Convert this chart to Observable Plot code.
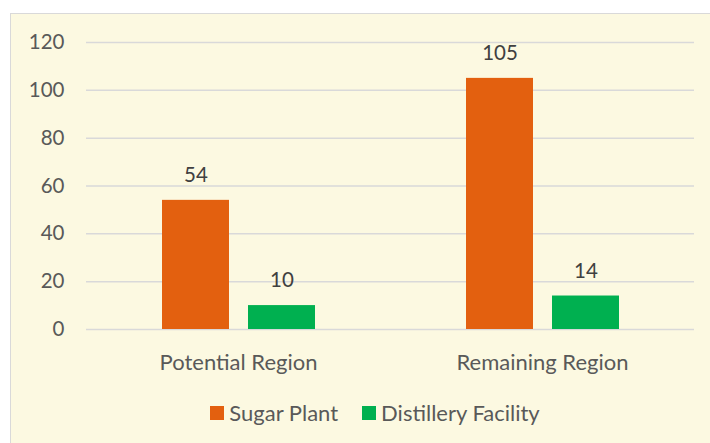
<!DOCTYPE html>
<html>
<head>
<meta charset="utf-8">
<script src="https://cdn.jsdelivr.net/npm/d3@7"></script>
<script src="https://cdn.jsdelivr.net/npm/@observablehq/plot@0.6"></script>
<style>
  html, body { margin: 0; padding: 0; background: #ffffff; width: 710px; height: 443px; overflow: hidden; }
  #frame { position: absolute; left: 10px; top: 13px; width: 720px; height: 450px;
           background: #FCF9E1; border-left: 1.5px solid #D9D9D9; border-top: 1.5px solid #D9D9D9; }
  #chart { position: absolute; left: 0; top: 0; }
  #legend { position: absolute; left: 0; top: 399px; width: 750px; display: flex; justify-content: center;
            font-family: Lato, "Open Sans", sans-serif; font-size: 22px; color: #595959; }
  .item { display: flex; align-items: center; margin: 0 12px; }
  .sw { width: 14px; height: 14px; margin-right: 5px; }
</style>
</head>
<body>
<div id="frame"></div>
<div id="chart"></div>
<div id="legend"></div>
<script>
const categories = ["Potential Region", "Remaining Region"];
const seriesNames = ["Sugar Plant", "Distillery Facility"];
const sugarPlant = [54, 105];
const distillery = [10, 14];
const yTicks = [0, 20, 40, 60, 80, 100, 120];
const colors = ["#E3600F", "#00B050"];

const data = [];
categories.forEach((c, i) => {
  data.push({category: c, series: seriesNames[0], value: sugarPlant[i]});
  data.push({category: c, series: seriesNames[1], value: distillery[i]});
});

const chart = Plot.plot({
  width: 710,
  height: 385,
  marginTop: 42,
  marginBottom: 56,
  marginLeft: 86,
  marginRight: 16,
  style: {background: "transparent", fontFamily: "Lato, 'Open Sans', sans-serif", fontSize: "20.5px", color: "#595959"},
  fx: {domain: categories, padding: 0, label: null, axis: "bottom", tickSize: 0, tickPadding: 25},
  x: {domain: seriesNames, paddingInner: 0.221, paddingOuter: 0.875, axis: null},
  y: {domain: [0, 120], ticks: yTicks, label: null, tickSize: 0, tickPadding: 22},
  color: {domain: seriesNames, range: colors},
  marks: [
    Plot.ruleY(yTicks, {stroke: "#D9D9D9", strokeWidth: 1.5}),
    Plot.barY(data, {fx: "category", x: "series", y: "value", fill: "series"}),
    Plot.text(data, {fx: "category", x: "series", y: "value", text: d => String(d.value), dy: -25, fill: "#404040", fontSize: 20.5})
  ]
});
chart.querySelectorAll("g[aria-label='fx-axis tick label'] text, g[aria-label='fx-axis'] text").forEach(t => t.setAttribute("font-size", "22"));
document.getElementById("chart").appendChild(chart);

const legend = document.getElementById("legend");
seriesNames.forEach((s, i) => {
  const it = document.createElement("div");
  it.className = "item";
  const sw = document.createElement("div");
  sw.className = "sw";
  sw.style.background = colors[i];
  const t = document.createElement("span");
  t.textContent = s;
  it.appendChild(sw); it.appendChild(t);
  legend.appendChild(it);
});
</script>
</body>
</html>
